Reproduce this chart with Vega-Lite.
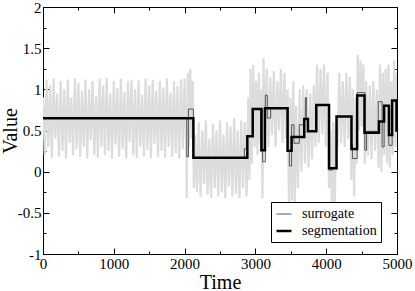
{
  "$schema": "https://vega.github.io/schema/vega-lite/v6.json",
  "width": 354,
  "height": 247,
  "autosize": {"type": "none"},
  "padding": {"left": 43, "top": 7, "right": 18, "bottom": 37},
  "background": "white",
  "config": {
    "font": "Liberation Serif",
    "style": {
      "guide-label": {"font": "Liberation Serif"},
      "guide-title": {"font": "Liberation Serif"}
    },
    "view": {"stroke": "black", "strokeWidth": 1},
    "axis": {
      "grid": false,
      "domainColor": "black",
      "domainWidth": 1,
      "tickColor": "black",
      "tickWidth": 1,
      "labelColor": "black",
      "labelFont": "Liberation Serif",
      "labelFontSize": 15,
      "titleFont": "Liberation Serif",
      "titleFontSize": 20,
      "titleFontWeight": "normal",
      "titleColor": "black",
      "labelFlush": false,
      "labelOverlap": false,
      "labelBound": false,
      "labelPadding": 8
    },
    "legend": {
      "orient": "none",
      "legendX": 228,
      "legendY": 195,
      "strokeColor": "black",
      "fillColor": "white",
      "padding": 4,
      "cornerRadius": 0,
      "labelFont": "Liberation Serif",
      "labelFontSize": 14,
      "labelColor": "black",
      "symbolType": "stroke",
      "symbolSize": 225,
      "rowPadding": 1,
      "labelOffset": 9
    }
  },
  "datasets": {
    "noise": [
      {"t":0,"v":0.9},{"t":25,"v":0.2},{"t":50,"v":1.12},{"t":75,"v":0.3},{"t":100,"v":1.05},{"t":125,"v":0.17},{"t":150,"v":1.13},{"t":175,"v":0.4},{"t":200,"v":0.95},{"t":225,"v":0.18},
      {"t":250,"v":1.1},{"t":275,"v":0.25},{"t":300,"v":1.0},{"t":325,"v":0.16},{"t":350,"v":1.12},{"t":375,"v":0.35},{"t":400,"v":0.9},{"t":425,"v":0.2},{"t":450,"v":1.13},{"t":475,"v":0.28},
      {"t":500,"v":1.08},{"t":525,"v":0.18},{"t":550,"v":0.98},{"t":575,"v":0.3},{"t":600,"v":1.12},{"t":625,"v":0.16},{"t":650,"v":1.0},{"t":675,"v":0.38},{"t":700,"v":1.1},{"t":725,"v":0.2},
      {"t":750,"v":0.92},{"t":775,"v":0.17},{"t":800,"v":1.13},{"t":825,"v":0.3},{"t":850,"v":1.05},{"t":875,"v":0.2},{"t":900,"v":1.14},{"t":925,"v":0.25},{"t":950,"v":0.95},{"t":975,"v":0.16},
      {"t":1000,"v":1.1},{"t":1025,"v":0.33},{"t":1050,"v":1.02},{"t":1075,"v":0.18},{"t":1100,"v":1.13},{"t":1125,"v":0.28},{"t":1150,"v":0.97},{"t":1175,"v":0.16},{"t":1200,"v":1.1},{"t":1225,"v":0.36},
      {"t":1250,"v":1.12},{"t":1275,"v":0.2},{"t":1300,"v":1.0},{"t":1325,"v":0.17},{"t":1350,"v":1.11},{"t":1375,"v":0.3},{"t":1400,"v":0.93},{"t":1425,"v":0.19},{"t":1450,"v":1.13},{"t":1475,"v":0.26},
      {"t":1500,"v":1.05},{"t":1525,"v":0.16},{"t":1550,"v":1.12},{"t":1575,"v":0.34},{"t":1600,"v":0.98},{"t":1625,"v":0.18},{"t":1650,"v":1.1},{"t":1675,"v":0.25},{"t":1700,"v":1.02},{"t":1725,"v":0.17},
      {"t":1750,"v":1.13},{"t":1775,"v":0.3},{"t":1800,"v":0.96},{"t":1825,"v":0.18},{"t":1850,"v":1.1},{"t":1875,"v":0.22},{"t":1900,"v":1.04},{"t":1925,"v":0.16},{"t":1950,"v":1.12},{"t":1975,"v":0.28},
      {"t":2000,"v":1.13},{"t":2025,"v":0.18},{"t":2030,"v":-0.32},{"t":2045,"v":1.2},{"t":2060,"v":0.3},{"t":2080,"v":1.25},{"t":2100,"v":0.4},{"t":2115,"v":1.1},{"t":2130,"v":-0.2},{"t":2150,"v":0.45},
      {"t":2175,"v":-0.25},{"t":2200,"v":0.6},{"t":2225,"v":-0.3},{"t":2250,"v":0.5},{"t":2275,"v":-0.15},{"t":2300,"v":0.62},{"t":2325,"v":-0.28},{"t":2350,"v":0.4},{"t":2375,"v":-0.32},{"t":2400,"v":0.58},
      {"t":2425,"v":-0.2},{"t":2450,"v":0.5},{"t":2475,"v":-0.3},{"t":2500,"v":0.62},{"t":2525,"v":-0.25},{"t":2550,"v":0.45},{"t":2575,"v":-0.32},{"t":2600,"v":0.6},{"t":2625,"v":-0.18},{"t":2650,"v":0.55},
      {"t":2675,"v":-0.3},{"t":2700,"v":0.65},{"t":2725,"v":-0.27},{"t":2750,"v":0.5},{"t":2775,"v":-0.32},{"t":2800,"v":0.62},{"t":2825,"v":-0.2},{"t":2850,"v":0.6},{"t":2875,"v":-0.3},{"t":2900,"v":0.9},
      {"t":2915,"v":-0.1},{"t":2930,"v":1.25},{"t":2950,"v":0.1},{"t":2970,"v":1.3},{"t":2990,"v":0.3},{"t":3010,"v":1.1},{"t":3030,"v":0.2},{"t":3050,"v":1.2},{"t":3070,"v":0.35},{"t":3090,"v":1.0},
      {"t":3100,"v":-0.32},{"t":3115,"v":1.38},{"t":3135,"v":0.4},{"t":3160,"v":1.25},{"t":3185,"v":0.3},{"t":3210,"v":1.15},{"t":3235,"v":0.45},{"t":3260,"v":1.22},{"t":3285,"v":0.3},{"t":3310,"v":1.1},
      {"t":3335,"v":0.5},{"t":3360,"v":1.25},{"t":3385,"v":0.35},{"t":3410,"v":1.2},{"t":3435,"v":0.4},{"t":3455,"v":1.0},{"t":3475,"v":-0.45},{"t":3495,"v":0.9},{"t":3515,"v":-0.35},{"t":3535,"v":1.1},
      {"t":3555,"v":-0.4},{"t":3575,"v":0.8},{"t":3600,"v":-0.2},{"t":3625,"v":1.0},{"t":3650,"v":0.0},{"t":3675,"v":1.05},{"t":3700,"v":0.1},{"t":3725,"v":1.0},{"t":3750,"v":0.05},{"t":3775,"v":0.95},
      {"t":3800,"v":0.15},{"t":3825,"v":1.05},{"t":3850,"v":0.3},{"t":3870,"v":1.3},{"t":3895,"v":0.35},{"t":3920,"v":1.25},{"t":3945,"v":0.45},{"t":3970,"v":1.3},{"t":3995,"v":0.3},{"t":4020,"v":1.2},
      {"t":4040,"v":-0.2},{"t":4060,"v":0.5},{"t":4080,"v":-0.5},{"t":4100,"v":0.6},{"t":4120,"v":-0.45},{"t":4140,"v":0.55},{"t":4160,"v":0.3},{"t":4185,"v":1.2},{"t":4210,"v":0.35},{"t":4235,"v":1.1},
      {"t":4260,"v":0.3},{"t":4285,"v":1.2},{"t":4310,"v":0.4},{"t":4335,"v":1.15},{"t":4355,"v":-0.1},{"t":4375,"v":1.0},{"t":4395,"v":-0.3},{"t":4415,"v":0.9},{"t":4430,"v":0.1},{"t":4445,"v":1.42},
      {"t":4465,"v":0.5},{"t":4485,"v":1.35},{"t":4505,"v":0.55},{"t":4525,"v":1.3},{"t":4545,"v":0.1},{"t":4565,"v":1.1},{"t":4590,"v":0.2},{"t":4615,"v":1.05},{"t":4640,"v":0.15},{"t":4665,"v":1.1},
      {"t":4690,"v":0.25},{"t":4715,"v":1.0},{"t":4740,"v":0.05},{"t":4760,"v":1.3},{"t":4780,"v":0.0},{"t":4800,"v":1.2},{"t":4820,"v":0.2},{"t":4840,"v":1.25},{"t":4860,"v":0.1},{"t":4880,"v":1.3},
      {"t":4900,"v":0.05},{"t":4920,"v":1.1},{"t":4940,"v":0.2},{"t":4960,"v":1.35},{"t":4980,"v":0.3},{"t":5000,"v":1.2}
    ],
    "steps": [
      {"s":"surrogate","t":0,"v":0.65},{"s":"surrogate","t":2031,"v":0.18},{"s":"surrogate","t":2054,"v":0.76},{"s":"surrogate","t":2124,"v":0.17},
      {"s":"surrogate","t":2844,"v":0.28},{"s":"surrogate","t":2886,"v":0.43},{"s":"surrogate","t":2962,"v":0.76},{"s":"surrogate","t":3102,"v":0.12},
      {"s":"surrogate","t":3140,"v":0.93},{"s":"surrogate","t":3168,"v":0.65},{"s":"surrogate","t":3215,"v":0.77},{"s":"surrogate","t":3450,"v":0.25},
      {"s":"surrogate","t":3479,"v":0.07},{"s":"surrogate","t":3511,"v":0.57},{"s":"surrogate","t":3545,"v":0.345},{"s":"surrogate","t":3620,"v":0.57},
      {"s":"surrogate","t":3690,"v":0.64},{"s":"surrogate","t":3705,"v":0.9},{"s":"surrogate","t":3720,"v":0.64},{"s":"surrogate","t":3747,"v":0.5},
      {"s":"surrogate","t":3855,"v":0.81},{"s":"surrogate","t":4038,"v":0.02},{"s":"surrogate","t":4090,"v":0.04},{"s":"surrogate","t":4146,"v":0.67},
      {"s":"surrogate","t":4357,"v":0.34},{"s":"surrogate","t":4370,"v":0.16},{"s":"surrogate","t":4437,"v":0.96},{"s":"surrogate","t":4546,"v":0.26},
      {"s":"surrogate","t":4570,"v":0.49},{"s":"surrogate","t":4735,"v":0.85},{"s":"surrogate","t":4790,"v":0.3},{"s":"surrogate","t":4818,"v":0.8},
      {"s":"surrogate","t":4884,"v":0.32},{"s":"surrogate","t":4931,"v":0.86},{"s":"surrogate","t":4993,"v":0.5},{"s":"surrogate","t":5000,"v":0.5},
      {"s":"segmentation","t":0,"v":0.65},{"s":"segmentation","t":2124,"v":0.17},{"s":"segmentation","t":2886,"v":0.43},{"s":"segmentation","t":2962,"v":0.76},
      {"s":"segmentation","t":3084,"v":0.26},{"s":"segmentation","t":3135,"v":0.77},{"s":"segmentation","t":3455,"v":0.255},{"s":"segmentation","t":3511,"v":0.42},
      {"s":"segmentation","t":3690,"v":0.64},{"s":"segmentation","t":3742,"v":0.49},{"s":"segmentation","t":3860,"v":0.81},{"s":"segmentation","t":4040,"v":0.04},
      {"s":"segmentation","t":4146,"v":0.67},{"s":"segmentation","t":4357,"v":0.275},{"s":"segmentation","t":4437,"v":0.925},{"s":"segmentation","t":4541,"v":0.474},
      {"s":"segmentation","t":4745,"v":0.61},{"s":"segmentation","t":4818,"v":0.8},{"s":"segmentation","t":4886,"v":0.446},{"s":"segmentation","t":4931,"v":0.865},
      {"s":"segmentation","t":4993,"v":0.5},{"s":"segmentation","t":5000,"v":0.5}
    ]
  },
  "layer": [
    {
      "data": {"name": "noise"},
      "mark": {"type": "line", "color": "#dcdcdc", "strokeWidth": 2.2, "clip": true},
      "encoding": {
        "x": {
          "field": "t", "type": "quantitative",
          "scale": {"domain": [0, 5000], "nice": false, "zero": false},
          "axis": {
            "orient": "bottom",
            "title": "Time",
            "titleFont": "Liberation Serif",
            "labelFont": "Liberation Serif",
            "labelFontSize": 15,
            "titlePadding": -2,
            "values": [0,500,1000,1500,2000,2500,3000,3500,4000,4500,5000],
            "labelExpr": "datum.value % 1000 === 0 ? '' + datum.value : ''",
            "tickSize": {"condition": {"test": "datum.value % 1000 !== 0", "value": -3}, "value": -6}
          }
        },
        "y": {
          "field": "v", "type": "quantitative",
          "scale": {"domain": [-1, 2], "nice": false, "zero": false},
          "axis": {
            "orient": "left",
            "title": "Value",
            "titleFont": "Liberation Serif",
            "labelFont": "Liberation Serif",
            "labelFontSize": 15,
            "titlePadding": -3,
            "values": [-1,-0.75,-0.5,-0.25,0,0.25,0.5,0.75,1,1.25,1.5,1.75,2],
            "labelExpr": "datum.value % 0.5 === 0 ? '' + datum.value : ''",
            "tickSize": {"condition": {"test": "datum.value % 0.5 !== 0", "value": -3}, "value": -6}
          }
        }
      }
    },
    {
      "data": {"name": "steps"},
      "mark": {"type": "line", "interpolate": "step-after", "clip": true},
      "encoding": {
        "x": {
          "field": "t", "type": "quantitative",
          "scale": {"domain": [0, 5000], "nice": false, "zero": false},
          "axis": {
            "orient": "top",
            "title": null,
            "labels": false,
            "values": [0,500,1000,1500,2000,2500,3000,3500,4000,4500,5000],
            "tickSize": {"condition": {"test": "datum.value % 1000 !== 0", "value": -3}, "value": -6}
          }
        },
        "y": {
          "field": "v", "type": "quantitative",
          "scale": {"domain": [-1, 2], "nice": false, "zero": false},
          "axis": {
            "orient": "right",
            "title": null,
            "labels": false,
            "values": [-1,-0.75,-0.5,-0.25,0,0.25,0.5,0.75,1,1.25,1.5,1.75,2],
            "tickSize": {"condition": {"test": "datum.value % 0.5 !== 0", "value": -3}, "value": -6}
          }
        },
        "color": {
          "field": "s", "type": "nominal",
          "scale": {"domain": ["surrogate", "segmentation"], "range": ["#555555", "#000000"]},
          "legend": {"title": null}
        },
        "strokeWidth": {
          "field": "s", "type": "nominal",
          "scale": {"domain": ["surrogate", "segmentation"], "range": [1, 2.5]},
          "legend": {"title": null}
        },
        "order": {"field": "t", "type": "quantitative"}
      }
    }
  ],
  "resolve": {"axis": {"x": "independent", "y": "independent"}}
}
